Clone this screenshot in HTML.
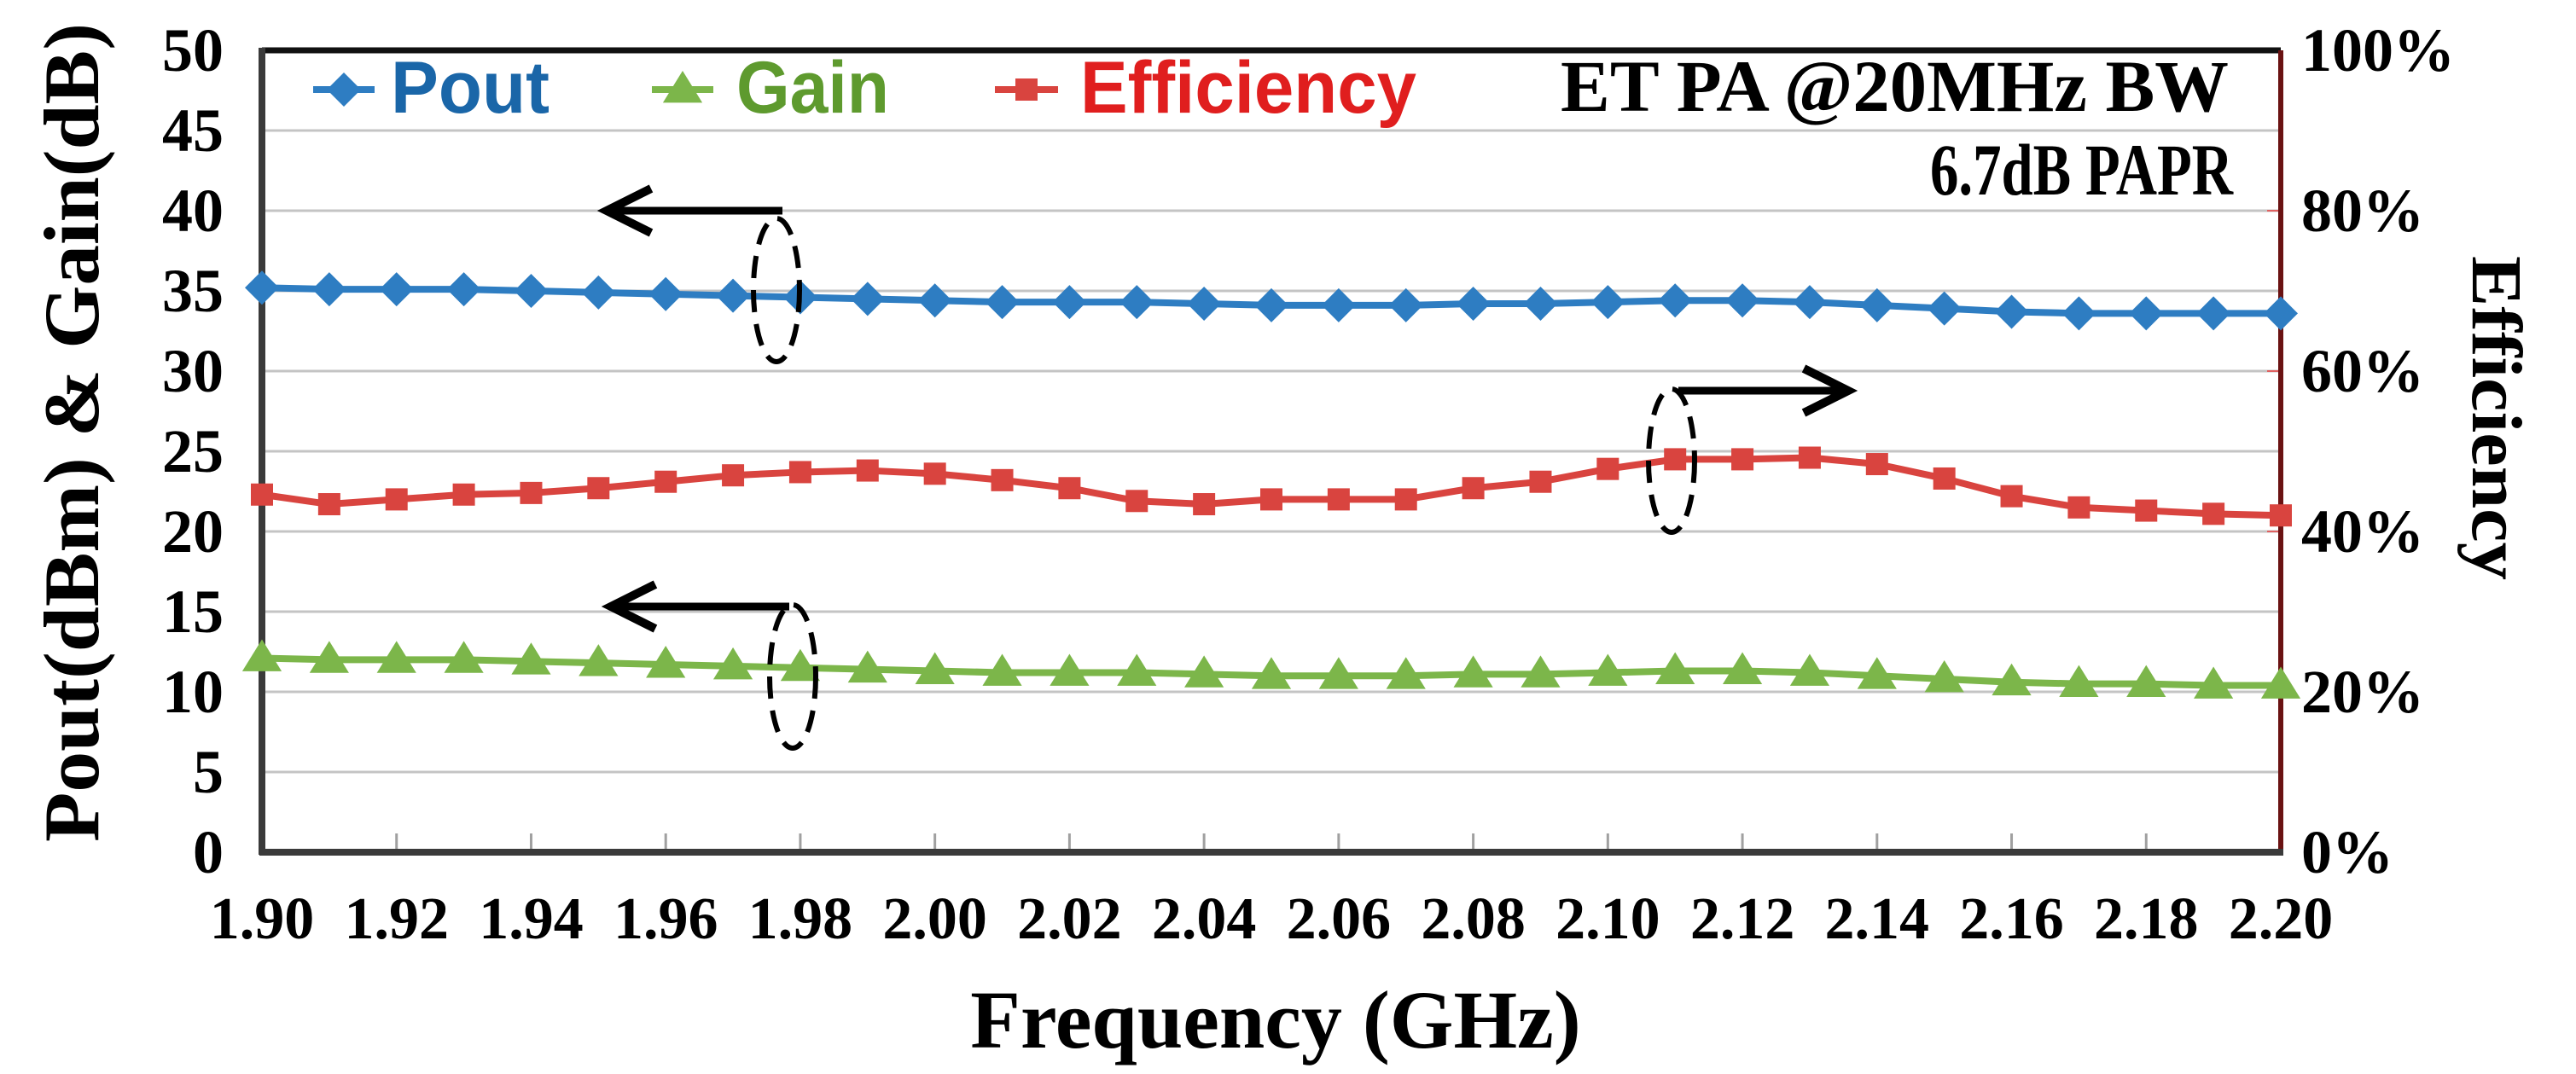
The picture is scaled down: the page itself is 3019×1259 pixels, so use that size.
<!DOCTYPE html>
<html><head><meta charset="utf-8"><style>
html,body{margin:0;padding:0;background:#fff;}
svg{display:block;}
</style></head><body>
<svg id="chart" width="3019" height="1259" viewBox="0 0 3019 1259" xmlns="http://www.w3.org/2000/svg"></svg>
<script>
const freqs = [1.90,1.91,1.92,1.93,1.94,1.95,1.96,1.97,1.98,1.99,2.00,2.01,2.02,2.03,2.04,2.05,2.06,2.07,2.08,2.09,2.10,2.11,2.12,2.13,2.14,2.15,2.16,2.17,2.18,2.19,2.20];
const pout = [35.2,35.1,35.1,35.1,35.0,34.9,34.8,34.7,34.6,34.5,34.4,34.3,34.3,34.3,34.2,34.1,34.1,34.1,34.2,34.2,34.3,34.4,34.4,34.3,34.1,33.9,33.7,33.6,33.6,33.6,33.6];
const gain = [12.1,12.0,12.0,12.0,11.9,11.8,11.7,11.6,11.5,11.4,11.3,11.2,11.2,11.2,11.1,11.0,11.0,11.0,11.1,11.1,11.2,11.3,11.3,11.2,11.0,10.8,10.6,10.5,10.5,10.4,10.4];
const efficiency = [44.6,43.4,44.0,44.6,44.8,45.4,46.2,47.0,47.4,47.6,47.2,46.4,45.4,43.8,43.4,44.0,44.0,44.0,45.4,46.2,47.8,49.0,49.0,49.2,48.4,46.6,44.4,43.0,42.6,42.2,42.0];
const xTicks = ["1.90","1.92","1.94","1.96","1.98","2.00","2.02","2.04","2.06","2.08","2.10","2.12","2.14","2.16","2.18","2.20"];
const yTicks = [0,5,10,15,20,25,30,35,40,45,50];
const y2Ticks = ["0%","20%","40%","60%","80%","100%"];

const L=307,R=2673,T=59,B=999;
const xMin=1.90,xMax=2.20;
const X=f=>L+(f-xMin)/(xMax-xMin)*(R-L);
const Y=v=>B-v/50*(B-T);
const Y2=p=>B-p/100*(B-T);
const NS="http://www.w3.org/2000/svg";
const svg=document.getElementById('chart');
function mk(tag,attrs,parent){const e=document.createElementNS(NS,tag);for(const k in attrs)e.setAttribute(k,attrs[k]);(parent||svg).appendChild(e);return e;}
const SERIF='"Liberation Serif", serif';
const SANS='"Liberation Sans", sans-serif';

yTicks.forEach(v=>{ if(v===0) return;
  const g=mk('line',{x1:L,x2:R,y1:Y(v),y2:Y(v),stroke:'#c4c4c4','stroke-width':3});
  
  
});
xTicks.forEach(t=>{
  const x=X(parseFloat(t));
  const tk=mk('line',{x1:x,x2:x,y1:B,y2:B-22,stroke:'#a0a0a0','stroke-width':3});
  
  
  const lb=mk('text',{x:x,y:1100,'text-anchor':'middle','font-family':SERIF,'font-weight':'bold','font-size':70,fill:'#000'});
  lb.textContent=t;
  
  
});
yTicks.forEach(v=>{
  const lb=mk('text',{x:262,y:Y(v)+24,'text-anchor':'end','font-family':SERIF,'font-weight':'bold','font-size':72,fill:'#000'});
  lb.textContent=v;
  
  
});
y2Ticks.forEach(t=>{
  const p=parseFloat(t);
  const lb=mk('text',{x:2697,y:Y2(p)+24,'text-anchor':'start','font-family':SERIF,'font-weight':'bold','font-size':72,fill:'#000'});
  lb.textContent=t;
  
  
  const tk=mk('line',{x1:R-16,x2:R,y1:Y2(p),y2:Y2(p),stroke:'#e06060','stroke-width':2});
  
  
});
let a=mk('line',{x1:L,x2:R,y1:T,y2:T,stroke:'#111','stroke-width':7});

a=mk('line',{x1:R,x2:R,y1:T,y2:B,stroke:'#6a1212','stroke-width':6});

a=mk('line',{x1:L,x2:L,y1:T-3,y2:B+3,stroke:'#3a3a3a','stroke-width':8});

a=mk('line',{x1:L-3,x2:R+3,y1:B,y2:B,stroke:'#3a3a3a','stroke-width':8});


function diamond(x,y,s){return `M${x},${y-s} L${x+s},${y} L${x},${y+s} L${x-s},${y} Z`;}
function tri(x,y,s){return `M${x},${y-s} L${x+s*1.05},${y+s*0.7} L${x-s*1.05},${y+s*0.7} Z`;}
function drawSeries(vals,yf,color,name,marker){
  const g=mk('g',{});
  
  
  const pts=vals.map((v,i)=>X(freqs[i])+','+yf(v)).join(' ');
  const pl=mk('polyline',{points:pts,fill:'none',stroke:color,'stroke-width':8,'stroke-linejoin':'round'},g);
  
  
  vals.forEach((v,i)=>{
    const x=X(freqs[i]),y=yf(v);let m;
    if(marker==='d') m=mk('path',{d:diamond(x,y,20),fill:color},g);
    else if(marker==='s') m=mk('rect',{x:x-13,y:y-13,width:26,height:26,fill:color},g);
    else m=mk('path',{d:tri(x,y,22),fill:color},g);
    
    
  });
}
drawSeries(efficiency,Y2,'#d9443f','efficiency','s');
drawSeries(gain,Y,'#7cb64a','gain','t');
drawSeries(pout,Y,'#2e7dc2','pout','d');

const lg=mk('g',{});


function legendEntry(x1,x2,tx,tw,color,tcolor,label,marker){
  const g=mk('g',{},lg);
  
  
  const y=105;
  mk('line',{x1:x1,x2:x2,y1:y,y2:y,stroke:color,'stroke-width':8},g);
  const cx=(x1+x2)/2;
  if(marker==='d') mk('path',{d:diamond(cx,y,20),fill:color},g);
  else if(marker==='s') mk('rect',{x:cx-13,y:y-13,width:26,height:26,fill:color},g);
  else mk('path',{d:tri(cx,y,22),fill:color},g);
  const t=mk('text',{x:tx,y:132,'font-family':SANS,'font-weight':'bold','font-size':86,fill:tcolor,textLength:tw,lengthAdjust:'spacingAndGlyphs'},g);
  t.textContent=label;
}
legendEntry(367,439,458,186,'#2e7dc2','#1a66a8','Pout','d');
legendEntry(764,836,863,179,'#7cb64a','#5e9a2e','Gain','t');
legendEntry(1166,1240,1266,394,'#d9443f','#e01e1e','Efficiency','s');

let t=mk('text',{x:1829,y:130,'font-family':SERIF,'font-weight':'bold','font-size':86,fill:'#000',textLength:783,lengthAdjust:'spacingAndGlyphs'});
t.textContent='ET PA @20MHz   BW';

t=mk('text',{x:2262,y:228,'font-family':SERIF,'font-weight':'bold','font-size':86,fill:'#000',textLength:355,lengthAdjust:'spacingAndGlyphs'});
t.textContent='6.7dB  PAPR';


function arrow(x1,x2,y,name){
  const g=mk('g',{});
  
  
  mk('line',{x1:x1,x2:x2,y1:y,y2:y,stroke:'#000','stroke-width':9},g);
  const d=x2<x1?1:-1;
  mk('polyline',{points:`${x2+d*52},${y-26} ${x2},${y} ${x2+d*52},${y+26}`,fill:'none',stroke:'#000','stroke-width':10,'stroke-linejoin':'miter'},g);
}
function ell(cx,cy,name){
  const e=mk('ellipse',{cx:cx,cy:cy,rx:27,ry:84,fill:'none',stroke:'#000','stroke-width':6,'stroke-dasharray':'26,14'});
  
  
}
arrow(917,711,247,'pout-axis-arrow');
ell(910,340,'pout-ellipse');
arrow(925,716,711,'gain-axis-arrow');
ell(929,793,'gain-ellipse');
arrow(1967,2166,458,'efficiency-axis-arrow');
ell(1959,540,'efficiency-ellipse');

t=mk('text',{x:1495,y:1228,'text-anchor':'middle','font-family':SERIF,'font-weight':'bold','font-size':96,fill:'#000'});
t.textContent='Frequency (GHz)';

t=mk('text',{x:0,y:0,'text-anchor':'middle','font-family':SERIF,'font-weight':'bold','font-size':92,fill:'#000',transform:'translate(115,507) rotate(-90)',textLength:960,lengthAdjust:'spacingAndGlyphs'});
t.textContent='Pout(dBm) & Gain(dB)';

t=mk('text',{x:0,y:0,'text-anchor':'middle','font-family':SERIF,'font-weight':'bold','font-size':84,fill:'#000',transform:'translate(2898,490) rotate(90)',textLength:380,lengthAdjust:'spacingAndGlyphs'});
t.textContent='Efficiency';

</script>
</body></html>
